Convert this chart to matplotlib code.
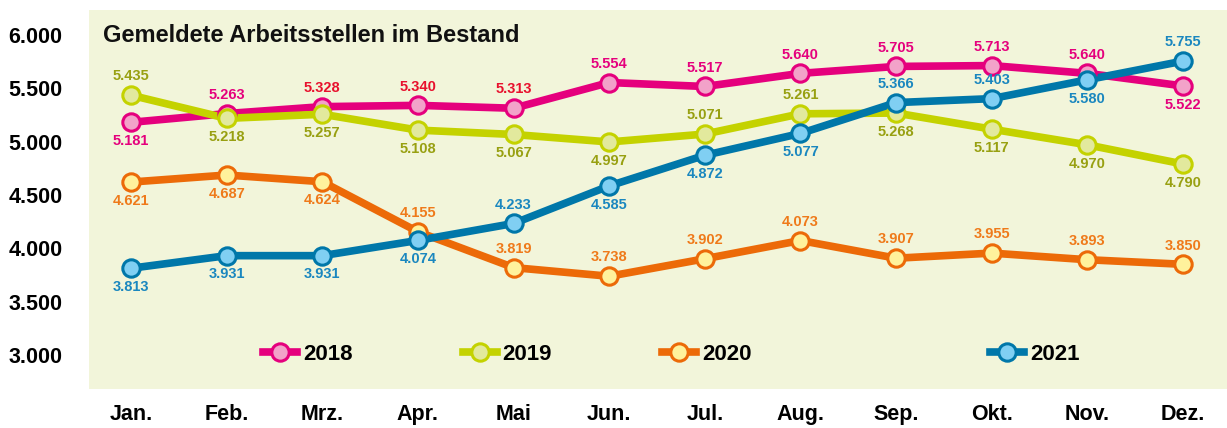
import matplotlib
matplotlib.use("Agg")
import matplotlib.pyplot as plt
from matplotlib.lines import Line2D

months = ["Jan.", "Feb.", "Mrz.", "Apr.", "Mai", "Jun.", "Jul.", "Aug.", "Sep.", "Okt.", "Nov.", "Dez."]
years = ["2018", "2019", "2020", "2021"]
v2018 = [5181, 5263, 5328, 5340, 5313, 5554, 5517, 5640, 5705, 5713, 5640, 5522]
v2019 = [5435, 5218, 5257, 5108, 5067, 4997, 5071, 5261, 5268, 5117, 4970, 4790]
v2020 = [4621, 4687, 4624, 4155, 3819, 3738, 3902, 4073, 3907, 3955, 3893, 3850]
v2021 = [3813, 3931, 3931, 4074, 4233, 4585, 4872, 5077, 5366, 5403, 5580, 5755]
# label placement: +1 above, -1 below
pos2018 = [-1, 1, 1, 1, 1, 1, 1, 1, 1, 1, 1, -1]
pos2019 = [1, -1, -1, -1, -1, -1, 1, 1, -1, -1, -1, -1]
pos2020 = [-1, -1, -1, 1, 1, 1, 1, 1, 1, 1, 1, 1]
pos2021 = [-1, -1, -1, -1, 1, -1, -1, -1, 1, 1, -1, 1]
yticks = [3000, 3500, 4000, 4500, 5000, 5500, 6000]
title = "Gemeldete Arbeitsstellen im Bestand"

series = [
    (v2018, pos2018, "#E5007D", "#F2A2C9", ["#E5007D", "#E5007D", "#E8112D", "#E8112D", "#E8112D"] + ["#E5007D"] * 7),
    (v2019, pos2019, "#C4D200", "#E2E99D", ["#98A011"] * 12),
    (v2020, pos2020, "#EC6A08", "#FFF29C", ["#EF7A1A"] * 12),
    (v2021, pos2021, "#0077A9", "#80CFF3", ["#1A87BF"] * 12),
]

plt.rcParams['font.family'] = ['Liberation Sans', 'DejaVu Sans']
fig = plt.figure(figsize=(12.27, 4.28), dpi=100)
ax = fig.add_axes([89 / 1227, 1 - 389 / 428, 1 - 89 / 1227, 379 / 428])
ax.set_facecolor("#F2F5DA")
for s in ax.spines.values():
    s.set_visible(False)

x = list(range(len(months)))
handles = []
for (vals, pos, lc, fc, tc), yr in zip(series, years):
    ax.plot(x, vals, color=lc, lw=5.5, solid_joinstyle="round", zorder=2)
    ax.plot(x, vals, ls="none", marker="o", ms=12.5, mfc=fc, mec=lc, mew=2.2, zorder=3)
    for xi, v, p, c in zip(x, vals, pos, tc):
        lab = f"{v/1000:.3f}"
        ax.annotate(lab, (xi, v), xytext=(0, 13.5 * p), textcoords="offset points",
                    ha="center", va="center", fontsize=10.5, fontweight="bold", color=c, zorder=4)
    handles.append(Line2D([0], [0], color=lc, lw=5.5, marker="o", ms=12.5, mfc=fc, mec=lc, mew=2.2))

ax.set_xlim(-0.44, 11.46)
ax.set_ylim(2681, 6234)
ax.set_yticks(yticks)
ax.set_yticklabels([f"{t/1000:.3f}" for t in yticks], fontsize=15.5, fontweight="bold")
ax.set_xticks(x)
ax.set_xticklabels(months, fontsize=15.5, fontweight="bold")
ax.tick_params(axis="y", length=0, pad=19)
ax.tick_params(axis="x", length=0, pad=11)

ax.text((103 - 89) / (1227 - 89), (389 - 36) / 379, title, transform=ax.transAxes,
        ha="left", va="center", fontsize=17, fontweight="bold", color="#111111")

leg_kw = dict(frameon=False, handlelength=1.55, handletextpad=0.25,
              prop=dict(size=16, weight="bold"), borderaxespad=0, borderpad=0)
leg1 = ax.legend(handles[:3], years[:3], ncol=3, columnspacing=4.95,
                 loc="center left", bbox_to_anchor=((263 - 89) / 1138, (389 - 354) / 379), **leg_kw)
ax.add_artist(leg1)
ax.legend(handles[3:], years[3:], loc="center left",
          bbox_to_anchor=((990 - 89) / 1138, (389 - 354) / 379), **leg_kw)

fig.savefig("out.png", dpi=100)
